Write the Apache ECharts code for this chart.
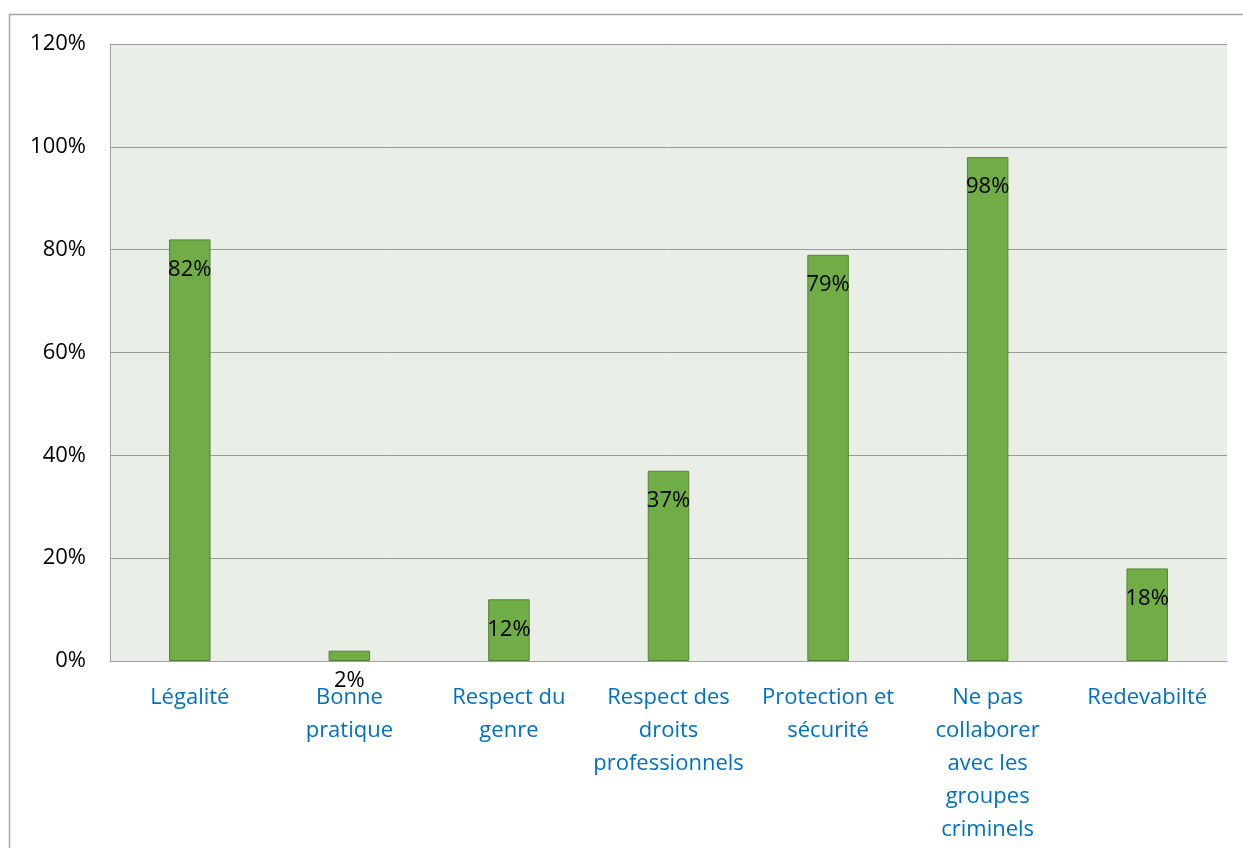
<!DOCTYPE html>
<html><head><meta charset="utf-8">
<script src="https://cdn.jsdelivr.net/npm/echarts@6/dist/echarts.min.js"></script>
<style>html,body{margin:0;padding:0;background:#fff}#c{width:1243px;height:848px}</style>
</head><body><div id="c"></div>
<script>
var categories = ["Légalité", "Bonne\npratique", "Respect du\ngenre", "Respect des\ndroits\nprofessionnels", "Protection et\nsécurité", "Ne pas\ncollaborer\navec les\ngroupes\ncriminels", "Redevabilté"];
var values = [82, 2, 12, 37, 79, 98, 18];
var yTicks = [0, 20, 40, 60, 80, 100, 120];

var chart = echarts.init(document.getElementById('c'), null, {renderer: 'canvas'});
var FONT = '"Open Sans", sans-serif';
chart.setOption({
  animation: false,
  graphic: [{
    type: 'rect', shape: {x: 9.5, y: 14.5, width: 1250, height: 850},
    style: {fill: 'none', stroke: '#A6A6A6', lineWidth: 1.5}, z: -10
  }],
  grid: {left: 110, right: 16, top: 44, bottom: 187, show: true, backgroundColor: '#E9EFE7', borderWidth: 0},
  xAxis: {
    type: 'category', data: categories,
    axisLine: {show: true, lineStyle: {color: '#A0A0A0', width: 1}},
    axisTick: {show: false},
    axisLabel: {color: '#0070C0', fontFamily: FONT, fontSize: 22, lineHeight: 33, margin: 20, interval: 0}
  },
  yAxis: {
    type: 'value', min: 0, max: 120, interval: 20,
    axisLine: {show: true, lineStyle: {color: '#A0A0A0', width: 1}},
    axisTick: {show: false},
    splitLine: {show: true, lineStyle: {color: '#999999', width: 1}},
    axisLabel: {color: '#000', fontFamily: FONT, fontSize: 22, margin: 24,
      formatter: function (v) { return yTicks.indexOf(v) >= 0 ? v + '%' : ''; }}
  },
  series: [{
    type: 'bar', data: values, barWidth: '26%',
    itemStyle: {color: '#70AD47', borderColor: '#548235', borderWidth: 1},
    label: {show: true, position: 'insideTop', distance: 19, color: '#000', fontFamily: FONT, fontSize: 22,
      formatter: function (p) { return p.value + '%'; }}
  }]
});
</script></body></html>
